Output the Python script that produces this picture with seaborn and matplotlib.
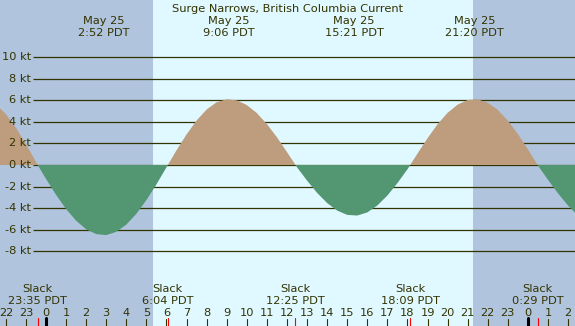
import numpy as np
import matplotlib
matplotlib.use('Agg')
import matplotlib.pyplot as plt
import matplotlib.transforms as mtransforms
import seaborn as sns

# current speed (kt) every half hour, hours from midnight May 25
hours = np.arange(-2.5, 27.0, 0.5)
speed = [5.62, 4.71, 3.45, 1.94, 0.28, -1.29, -2.76, -4.08, -5.16, -5.95,
         -6.40, -6.49, -6.19, -5.52, -4.52, -3.25, -1.79, -0.21, 1.36, 2.83,
         4.12, 5.14, 5.81, 6.09, 5.99, 5.55, 4.81, 3.79, 2.57, 1.20,
         -0.21, -1.44, -2.58, -3.52, -4.22, -4.62, -4.68, -4.39, -3.75, -2.83,
         -1.68, -0.40, 1.05, 2.48, 3.77, 4.83, 5.59, 6.02, 6.08, 5.77,
         5.10, 4.11, 2.87, 1.45, -0.05, -1.37, -2.63, -3.76, -4.70]

max_times = ['2:52', '9:06', '15:21', '21:20']
max_dates = ['May 25', 'May 25', 'May 25', 'May 25']
slack_times = ['23:35', '6:04', '12:25', '18:09', '0:29']
slack_days = [-1, 0, 0, 0, 1]
sunrise = '5:20'
sunset = '21:16'
kt_levels = [-8, -6, -4, -2, 0, 2, 4, 6, 8, 10]
hour_ticks = list(range(-2, 27))

title = 'Surge Narrows, British Columbia Current'


def to_hours(s, day=0):
    h, m = s.split(':')
    return day * 24 + int(h) + int(m) / 60


sns.set_style('white')
plt.rcParams['font.family'] = ['DejaVu Sans']

night = '#b0c4de'
day = '#e0f8ff'
flood = '#bd9d7d'
ebb = '#529672'
dark = '#333300'

x0, x1 = -2.291, 26.345
fig = plt.figure(figsize=(5.75, 3.26), dpi=100)
ax = fig.add_axes([0, 0, 1, 1])
ax.set_xlim(x0, x1)
ax.set_ylim(-14.91, 15.28)
ax.axis('off')

sr, ss = to_hours(sunrise), to_hours(sunset)
ax.axvspan(x0, sr, color=night, lw=0, zorder=0)
ax.axvspan(sr, ss, color=day, lw=0, zorder=0)
ax.axvspan(ss, x1, color=night, lw=0, zorder=0)

# grid lines + labels
ax.hlines(kt_levels, -0.647, x1, color=dark, lw=0.9, zorder=1)
for k in kt_levels:
    ax.text(-0.75, k, f'{k} kt', ha='right', va='center', fontsize=8.2, color=dark)

spd = np.array(speed)
ax.fill_between(hours, spd, 0, where=spd >= 0, interpolate=True, color=flood, lw=0, zorder=2)
ax.fill_between(hours, spd, 0, where=spd <= 0, interpolate=True, color=ebb, lw=0, zorder=2)

# text positions in pixels from the top of the figure
trans = mtransforms.blended_transform_factory(ax.transData, fig.transFigure)
def ypx(p):
    return 1 - p / 326

fig.text(0.5, ypx(12), title, ha='center', va='baseline', fontsize=8.2, color=dark)

for d, t in zip(max_dates, max_times):
    x = to_hours(t)
    ax.text(x, ypx(24.5), d, transform=trans, ha='center', va='baseline', fontsize=8.2, color=dark)
    ax.text(x, ypx(36), t + ' PDT', transform=trans, ha='center', va='baseline', fontsize=8.2, color=dark)

for t, dd in zip(slack_times, slack_days):
    x = to_hours(t, dd)
    ax.text(x, ypx(291.5), 'Slack', transform=trans, ha='center', va='baseline', fontsize=8.2, color=dark)
    ax.text(x, ypx(303.5), t + ' PDT', transform=trans, ha='center', va='baseline', fontsize=8.2, color=dark)
    ax.axvline(x, 0, 8 / 326, color='red', lw=0.8, zorder=3)

for h in hour_ticks:
    ax.text(h, ypx(315.5), str(h % 24), transform=trans, ha='center', va='baseline', fontsize=8.2, color=dark)
    if h % 24 == 0:
        ax.axvline(h, 0, 8 / 326, color='black', lw=2.2, zorder=3)
    else:
        ax.axvline(h, 0, 7 / 326, color=dark, lw=0.8, zorder=3)

fig.savefig('out.png', dpi=100)
